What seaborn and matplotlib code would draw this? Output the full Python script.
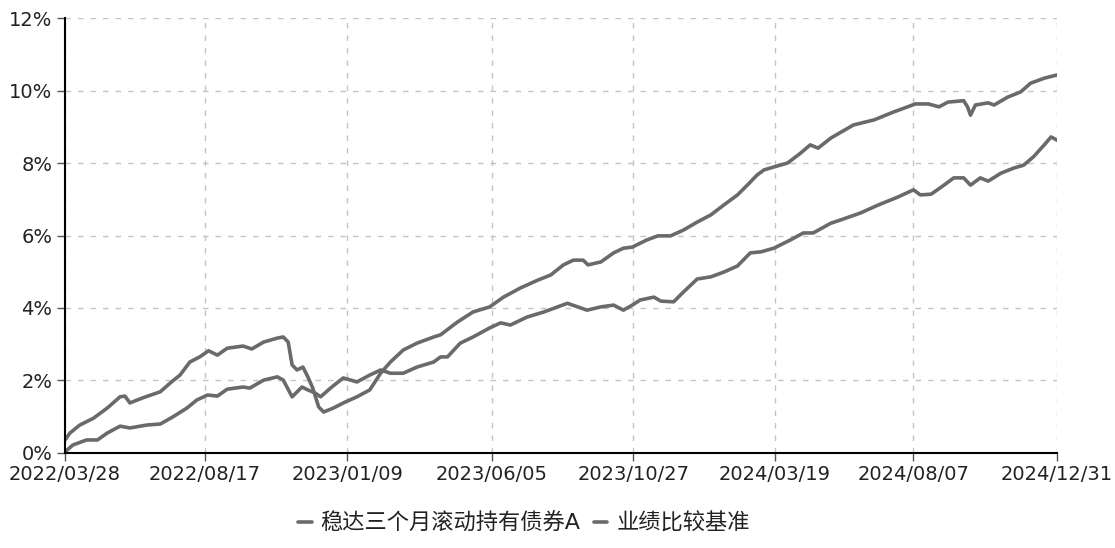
import pandas as pd
import matplotlib
matplotlib.use("Agg")
import matplotlib.pyplot as plt
from matplotlib.ticker import PercentFormatter
import seaborn as sns

# data: days since 2022/03/28, cumulative return in %
start = "2022-03-28"

fund_days = [0, 5, 15, 29, 43, 56, 61, 66, 79, 97, 107, 117, 127, 137, 146, 155, 165, 181, 190,
             202, 216, 222, 227, 231, 236, 242, 247, 252, 258, 263, 273, 283, 297, 310, 321, 331,
             344, 358, 375, 382, 399, 415, 432, 446, 463, 481, 494, 507, 517, 527, 532, 545, 558,
             568, 577, 592, 603, 616, 629, 643, 657, 670, 684, 694, 704, 711, 721, 735, 748, 758,
             766, 779, 802, 823, 843, 865, 878, 889, 898, 914, 918, 921, 926, 939, 945, 959, 972,
             982, 996, 1009]
fund_vals = [0.36, 0.55, 0.77, 0.96, 1.24, 1.55, 1.57, 1.38, 1.52, 1.69, 1.93, 2.15, 2.51, 2.65,
             2.82, 2.70, 2.89, 2.95, 2.87, 3.06, 3.17, 3.20, 3.06, 2.43, 2.29, 2.37, 2.10, 1.79,
             1.27, 1.13, 1.24, 1.38, 1.55, 1.74, 2.20, 2.51, 2.84, 3.03, 3.20, 3.26, 3.61, 3.89,
             4.03, 4.30, 4.55, 4.77, 4.91, 5.19, 5.32, 5.32, 5.19, 5.27, 5.52, 5.65, 5.68, 5.88,
             5.99, 5.99, 6.15, 6.37, 6.57, 6.84, 7.12, 7.39, 7.67, 7.81, 7.89, 8.00, 8.27, 8.50,
             8.41, 8.69, 9.05, 9.19, 9.41, 9.63, 9.63, 9.55, 9.68, 9.72, 9.55, 9.32, 9.60, 9.66,
             9.60, 9.82, 9.96, 10.20, 10.34, 10.43]

bench_days = [0, 8, 22, 33, 43, 56, 66, 83, 97, 110, 124, 134, 145, 155, 165, 181, 188, 202, 216,
              222, 231, 241, 247, 254, 260, 270, 283, 297, 310, 321, 331, 344, 358, 375, 382, 389,
              402, 415, 432, 443, 453, 470, 487, 501, 511, 531, 545, 558, 568, 577, 585, 599, 606,
              619, 629, 643, 657, 670, 684, 697, 708, 721, 738, 751, 761, 779, 789, 809, 827, 847,
              863, 870, 881, 894, 904, 914, 921, 931, 939, 952, 965, 975, 985, 996, 1003, 1009]
bench_vals = [0.03, 0.22, 0.36, 0.36, 0.55, 0.74, 0.69, 0.77, 0.80, 1.00, 1.24, 1.46, 1.60, 1.57,
              1.76, 1.82, 1.79, 2.01, 2.10, 2.01, 1.55, 1.82, 1.74, 1.66, 1.55, 1.79, 2.07, 1.96,
              2.15, 2.29, 2.20, 2.20, 2.37, 2.51, 2.65, 2.65, 3.03, 3.20, 3.45, 3.59, 3.53, 3.75,
              3.89, 4.03, 4.13, 3.94, 4.03, 4.08, 3.94, 4.08, 4.22, 4.30, 4.19, 4.17, 4.44, 4.80,
              4.86, 4.99, 5.16, 5.52, 5.55, 5.65, 5.88, 6.07, 6.07, 6.34, 6.43, 6.62, 6.84, 7.06,
              7.26, 7.12, 7.14, 7.39, 7.59, 7.59, 7.39, 7.59, 7.50, 7.72, 7.86, 7.94, 8.17, 8.50,
              8.72, 8.63]

tick_labels = ["2022/03/28", "2022/08/17", "2023/01/09", "2023/06/05",
               "2023/10/27", "2024/03/19", "2024/08/07", "2024/12/31"]
series_names = ["稳达三个月滚动持有债券A", "业绩比较基准"]

fund = pd.DataFrame({"date": pd.to_datetime(start) + pd.to_timedelta(fund_days, unit="D"),
                     "value": fund_vals})
bench = pd.DataFrame({"date": pd.to_datetime(start) + pd.to_timedelta(bench_days, unit="D"),
                      "value": bench_vals})

sns.set_theme(style="white")
plt.rcParams["font.family"] = ["DejaVu Sans", "Noto Sans CJK SC"]

fig = plt.figure(figsize=(11.15, 5.48), dpi=100)
ax = fig.add_axes([0.0583, 0.1734, 0.8897, 0.7937])

line_color = "#6a6a6a"
sns.lineplot(data=fund, x="date", y="value", ax=ax, color=line_color, linewidth=2.6,
             label=series_names[0])
sns.lineplot(data=bench, x="date", y="value", ax=ax, color=line_color, linewidth=2.6,
             label=series_names[1])

ticks = pd.to_datetime(tick_labels, format="%Y/%m/%d")
ax.set_xticks(ticks)
ax.set_xticklabels(tick_labels)
ax.set_xlim(ticks[0], ticks[-1])
ax.set_ylim(0, 12)
ax.set_yticks(range(0, 13, 2))
ax.yaxis.set_major_formatter(PercentFormatter(xmax=100, decimals=0))
ax.set_xlabel("")
ax.set_ylabel("")

ax.grid(True, color="#c4c4c4", linestyle=(0, (4, 5)), linewidth=1)
for side in ["top", "right"]:
    ax.spines[side].set_visible(False)
for side in ["left", "bottom"]:
    ax.spines[side].set_color("black")
    ax.spines[side].set_linewidth(1.5)
ax.tick_params(axis="both", which="major", direction="out", length=6, width=1,
               color="#555555", labelsize=14, labelcolor="#222222", pad=3,
               bottom=True, left=True)

handles, labels = ax.get_legend_handles_labels()
ax.get_legend().remove()
fig.legend(handles, labels, loc="center", bbox_to_anchor=(0.47, 0.045), ncol=2,
           frameon=False, fontsize=16, handlelength=0.6, handletextpad=0.4,
           columnspacing=0.6, labelcolor="#222222")

fig.savefig("out.png", dpi=100)
